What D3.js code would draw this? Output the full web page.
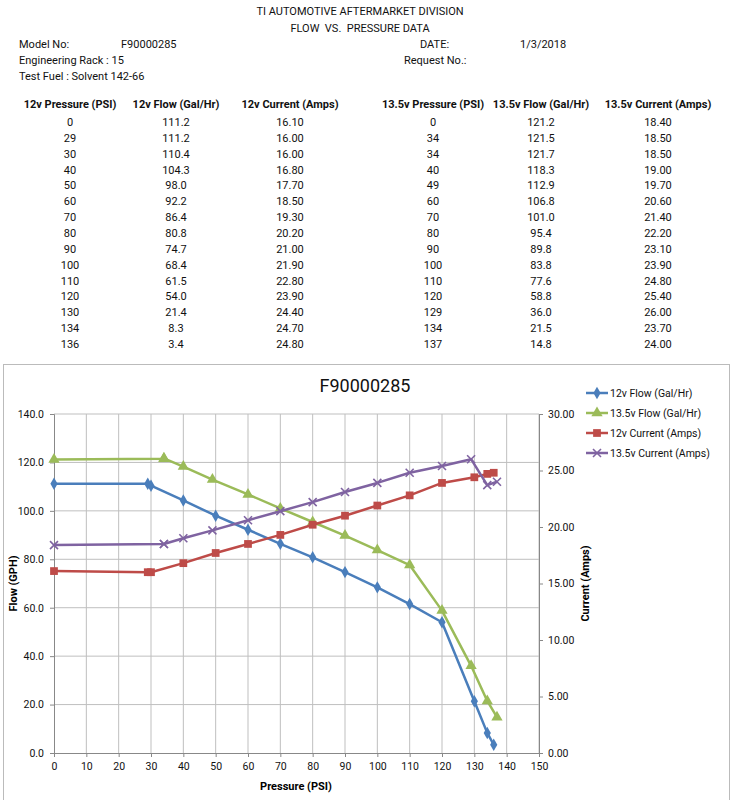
<!DOCTYPE html>
<html>
<head>
<meta charset="utf-8">
<script src="https://cdn.jsdelivr.net/npm/d3@7"></script>
<style>
  body { margin: 0; background: #fff; }
  svg { font-family: "Roboto", "Noto Sans", sans-serif; }
  text { white-space: pre; }
</style>
</head>
<body>
<svg id="chart" width="733" height="800"></svg>
<script>
// table / series data
const p12 = [0, 29, 30, 40, 50, 60, 70, 80, 90, 100, 110, 120, 130, 134, 136];
const flow12 = [111.2, 111.2, 110.4, 104.3, 98.0, 92.2, 86.4, 80.8, 74.7, 68.4, 61.5, 54.0, 21.4, 8.3, 3.4];
const cur12 = [16.10, 16.00, 16.00, 16.80, 17.70, 18.50, 19.30, 20.20, 21.00, 21.90, 22.80, 23.90, 24.40, 24.70, 24.80];
const p135 = [0, 34, 34, 40, 49, 60, 70, 80, 90, 100, 110, 120, 129, 134, 137];
const flow135 = [121.2, 121.5, 121.7, 118.3, 112.9, 106.8, 101.0, 95.4, 89.8, 83.8, 77.6, 58.8, 36.0, 21.5, 14.8];
const cur135 = [18.40, 18.50, 18.50, 19.00, 19.70, 20.60, 21.40, 22.20, 23.10, 23.90, 24.80, 25.40, 26.00, 23.70, 24.00];

const headers = ["12v Pressure (PSI)", "12v Flow (Gal/Hr)", "12v Current (Amps)",
                 "13.5v Pressure (PSI)", "13.5v Flow (Gal/Hr)", "13.5v Current (Amps)"];
const flowTicks = [0, 20, 40, 60, 80, 100, 120, 140];
const curTicks = [0, 5, 10, 15, 20, 25, 30];
const xTicks = d3.range(0, 151, 10);

const seriesNames = ["12v Flow (Gal/Hr)", "13.5v Flow (Gal/Hr)", "12v Current (Amps)", "13.5v Current (Amps)"];
const seriesColors = ["#4A7EBB", "#9BBB59", "#BE4B48", "#7F63A1"];

const svg = d3.select("#chart");

// ---- header block
const head = svg.append("g").attr("font-size", 11).attr("fill", "#111");
head.append("text").attr("x", 360).attr("y", 15).attr("text-anchor", "middle").text("TI AUTOMOTIVE AFTERMARKET DIVISION");
head.append("text").attr("x", 360).attr("y", 32).attr("text-anchor", "middle").text("FLOW  VS.  PRESSURE DATA");
head.append("text").attr("x", 19).attr("y", 48).text("Model No:");
head.append("text").attr("x", 121).attr("y", 48).text("F90000285");
head.append("text").attr("x", 420).attr("y", 48).text("DATE:");
head.append("text").attr("x", 520).attr("y", 48).text("1/3/2018");
head.append("text").attr("x", 19).attr("y", 64).text("Engineering Rack : 15");
head.append("text").attr("x", 404).attr("y", 64).text("Request No.:");
head.append("text").attr("x", 19).attr("y", 80).text("Test Fuel : Solvent 142-66");

// ---- data table
const colX = [70, 176, 290, 433, 541, 658];
const rowY = d3.scaleLinear().domain([0, 14]).range([126, 348]);
const table = svg.append("g").attr("font-size", 11).attr("fill", "#111").attr("text-anchor", "middle");
table.selectAll("text.h").data(headers).join("text")
    .attr("class", "h")
    .attr("x", (d, i) => colX[i]).attr("y", 108)
    .attr("font-weight", "bold")
    .text(d => d);

const cols = [
  p12.map(String), flow12.map(d => d.toFixed(1)), cur12.map(d => d.toFixed(2)),
  p135.map(String), flow135.map(d => d.toFixed(1)), cur135.map(d => d.toFixed(2))
];
cols.forEach((col, ci) => {
  table.append("g").selectAll("text").data(col).join("text")
      .attr("x", colX[ci]).attr("y", (d, i) => rowY(i))
      .text(d => d);
});

// ---- chart box
svg.append("rect").attr("x", 3.5).attr("y", 364.5).attr("width", 726).attr("height", 440)
    .attr("fill", "#fff").attr("stroke", "#bbb").attr("stroke-width", 1);

const x = d3.scaleLinear().domain([0, 150]).range([54, 539]);
const yL = d3.scaleLinear().domain([0, 140]).range([753, 414]);
const yR = d3.scaleLinear().domain([0, 30]).range([753, 414]);

const g = svg.append("g");

// gridlines
g.append("g").selectAll("line").data(xTicks.slice(1)).join("line")
    .attr("x1", d => x(d)).attr("x2", d => x(d))
    .attr("y1", yL(0)).attr("y2", yL(140))
    .attr("stroke", "#bfbfbf").attr("stroke-width", 1);
g.append("g").selectAll("line").data(flowTicks.slice(1)).join("line")
    .attr("x1", x(0)).attr("x2", x(150))
    .attr("y1", d => yL(d)).attr("y2", d => yL(d))
    .attr("stroke", "#bfbfbf").attr("stroke-width", 1);

// axes
const axL = g.append("g").attr("transform", `translate(${x(0)},0)`)
    .call(d3.axisLeft(yL).tickValues(flowTicks).tickFormat(d3.format(".1f")).tickSize(4).tickPadding(6));
const axR = g.append("g").attr("transform", `translate(${x(150)},0)`)
    .call(d3.axisRight(yR).tickValues(curTicks).tickFormat(d3.format(".2f")).tickSize(4).tickPadding(5));
const axB = g.append("g").attr("transform", `translate(0,${yL(0)})`)
    .call(d3.axisBottom(x).tickValues(xTicks).tickSize(4).tickPadding(6));
[axL, axR, axB].forEach(a => {
  a.select(".domain").attr("stroke", "#888");
  a.selectAll(".tick line").attr("stroke", "#888");
  a.selectAll("text").attr("font-size", 10.5).attr("fill", "#111")
      .attr("font-family", "Roboto, sans-serif");
});

// titles
svg.append("text").attr("x", 365).attr("y", 392).attr("text-anchor", "middle")
    .attr("font-size", 18).attr("fill", "#111").text("F90000285");
svg.append("text").attr("transform", `translate(17,${(yL(0) + yL(140)) / 2}) rotate(-90)`)
    .attr("text-anchor", "middle").attr("font-size", 11).attr("font-weight", "bold").text("Flow (GPH)");
svg.append("text").attr("transform", `translate(589,${(yL(0) + yL(140)) / 2}) rotate(-90)`)
    .attr("text-anchor", "middle").attr("font-size", 11).attr("font-weight", "bold").text("Current (Amps)");
svg.append("text").attr("x", 296).attr("y", 790).attr("text-anchor", "middle")
    .attr("font-size", 11).attr("font-weight", "bold").text("Pressure (PSI)");

// series
const series = [
  { xs: p12, ys: flow12, y: yL, marker: "diamond" },
  { xs: p135, ys: flow135, y: yL, marker: "triangle" },
  { xs: p12, ys: cur12, y: yR, marker: "square" },
  { xs: p135, ys: cur135, y: yR, marker: "cross" }
];

function drawMarker(sel, type, color) {
  if (type === "cross") {
    sel.append("path").attr("d", "M-4,-4L4,4M-4,4L4,-4")
        .attr("stroke", color).attr("stroke-width", 1.6).attr("fill", "none");
  } else {
    const sym = { diamond: d3.symbolDiamond, triangle: d3.symbolTriangle, square: d3.symbolSquare }[type];
    const size = { diamond: 45, triangle: 55, square: 60 }[type];
    sel.append("path").attr("d", d3.symbol(sym, size)()).attr("fill", color);
  }
}

series.forEach((s, i) => {
  const pts = s.xs.map((v, j) => [x(v), s.y(s.ys[j])]);
  g.append("path").attr("d", d3.line()(pts))
      .attr("fill", "none").attr("stroke", seriesColors[i]).attr("stroke-width", 2.5)
      .attr("stroke-linejoin", "round");
  g.append("g").selectAll("g").data(pts).join("g")
      .attr("transform", d => `translate(${d[0]},${d[1]})`)
      .each(function () { drawMarker(d3.select(this), s.marker, seriesColors[i]); });
});

// legend
const leg = svg.append("g").attr("font-size", 10.5).attr("fill", "#111");
seriesNames.forEach((name, i) => {
  const ly = 393 + i * 20;
  const lg = leg.append("g").attr("transform", `translate(586,${ly})`);
  lg.append("line").attr("x1", 0).attr("x2", 22).attr("stroke", seriesColors[i]).attr("stroke-width", 2.5);
  const m = lg.append("g").attr("transform", "translate(11,0)");
  drawMarker(m, series[i].marker, seriesColors[i]);
  lg.append("text").attr("x", 24).attr("y", 4).text(name);
});
</script>
</body>
</html>
